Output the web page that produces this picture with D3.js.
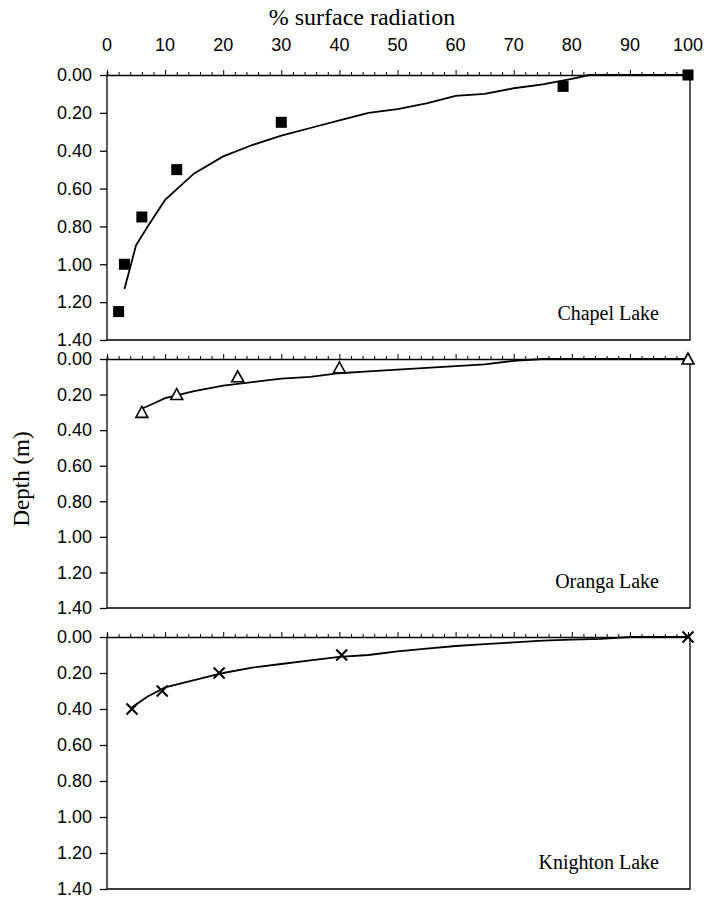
<!DOCTYPE html>
<html>
<head>
<meta charset="utf-8">
<script src="https://cdn.jsdelivr.net/npm/d3@7"></script>
<style>
body { margin: 0; background: #fff; }
svg { display: block; }
</style>
</head>
<body>
<div id="chart"></div>
<script>
// observed points (x = % surface radiation, y = depth m)
var chapelPts = [[2, 1.25], [3, 1.00], [6, 0.75], [12, 0.50], [30, 0.25], [78.5, 0.06], [100, 0.00]];
var orangaPts = [[6, 0.30], [12, 0.20], [22.5, 0.10], [40, 0.05], [100, 0.00]];
var knightonPts = [[4.3, 0.40], [9.5, 0.30], [19.3, 0.20], [40.4, 0.10], [100, 0.00]];

// fitted curves
var chapelFit = [[3, 1.13], [5, 0.90], [7, 0.80], [10, 0.66], [15, 0.52], [20, 0.43], [25, 0.37], [30, 0.32],
	[35, 0.28], [40, 0.24], [45, 0.20], [50, 0.18], [55, 0.15], [60, 0.11], [65, 0.10], [70, 0.07],
	[75, 0.05], [80, 0.02], [83, 0.00], [100, 0.00]];
var orangaFit = [[6, 0.28], [8, 0.25], [10, 0.22], [15, 0.18], [20, 0.15], [25, 0.13], [30, 0.11], [35, 0.10],
	[40, 0.08], [45, 0.07], [50, 0.06], [55, 0.05], [60, 0.04], [65, 0.03], [70, 0.01], [75, 0.00], [100, 0.00]];
var knightonFit = [[4.3, 0.39], [7, 0.33], [10, 0.28], [15, 0.24], [20, 0.20], [25, 0.17], [30, 0.15], [35, 0.13],
	[40, 0.11], [45, 0.10], [50, 0.08], [55, 0.065], [60, 0.05], [65, 0.04], [70, 0.03], [75, 0.02],
	[80, 0.015], [85, 0.01], [90, 0.00], [100, 0.00]];

var xTicks = [0, 10, 20, 30, 40, 50, 60, 70, 80, 90, 100];
var yTicks = [0, 0.2, 0.4, 0.6, 0.8, 1.0, 1.2, 1.4];
var lakeNames = ["Chapel Lake", "Oranga Lake", "Knighton Lake"];

var W = 707, H = 903;
var left = 107, right = 690;
var panels = [
	{name: lakeNames[0], top: 75, bottom: 340, pts: chapelPts, fit: chapelFit, mark: "square"},
	{name: lakeNames[1], top: 359, bottom: 608, pts: orangaPts, fit: orangaFit, mark: "triangle"},
	{name: lakeNames[2], top: 637, bottom: 889, pts: knightonPts, fit: knightonFit, mark: "cross"}
];

var svg = d3.select("#chart").append("svg").attr("width", W).attr("height", H);

var x = d3.scaleLinear().domain([0, 100]).range([left, right - 2]);

svg.append("text")
	.attr("x", 362).attr("y", 25)
	.attr("text-anchor", "middle")
	.style("font-family", "'Liberation Serif', serif").style("font-size", "24px")
	.text("% surface radiation");

svg.selectAll("text.xlab").data(xTicks).enter().append("text")
	.attr("class", "xlab")
	.attr("x", function (d) { return x(d); })
	.attr("y", 51)
	.attr("text-anchor", "middle")
	.style("font-family", "'Liberation Sans', Arial, sans-serif").style("font-size", "18px")
	.text(function (d) { return d; });

svg.append("text")
	.attr("transform", "translate(29,479) rotate(-90)")
	.attr("text-anchor", "middle")
	.style("font-family", "'Liberation Serif', serif").style("font-size", "23px")
	.text("Depth (m)");

var line = d3.line();

panels.forEach(function (p) {
	var y = d3.scaleLinear().domain([0, 1.4]).range([p.top, p.bottom]);
	var g = svg.append("g");

	// frame: left, bottom, right
	g.append("path")
		.attr("d", "M" + left + "," + p.top + "V" + p.bottom + "H" + right + "V" + p.top)
		.attr("fill", "none").attr("stroke", "#000").attr("stroke-width", 1.3);

	// top axis with minor ticks
	var top = d3.axisTop(x).tickValues(d3.range(0, 101, 2)).tickSize(3).tickFormat("");
	var ga = g.append("g").attr("transform", "translate(0," + p.top + ")").call(top);
	ga.select(".domain").attr("stroke-width", 1.6);
	ga.selectAll(".tick line").attr("stroke-width", 1)
		.attr("y2", function (d) { return d % 10 === 0 ? -5 : -3; });

	// left axis
	var la = d3.axisLeft(y).tickValues(yTicks).tickSize(7).tickPadding(8).tickFormat(d3.format(".2f"));
	var gl = g.append("g").attr("transform", "translate(" + left + ",0)").call(la);
	gl.select(".domain").remove();
	gl.selectAll(".tick line").attr("stroke-width", 1.3);
	gl.selectAll("text")
		.style("font-family", "'Liberation Sans', Arial, sans-serif").style("font-size", "18px")
		.attr("fill", "#000");

	// fitted curve
	g.append("path")
		.datum(p.fit)
		.attr("d", line.x(function (d) { return x(d[0]); }).y(function (d) { return y(d[1]); }))
		.attr("fill", "none").attr("stroke", "#000").attr("stroke-width", 1.8);

	// markers
	var mk = g.selectAll("g.mk").data(p.pts).enter().append("g")
		.attr("transform", function (d) { return "translate(" + x(d[0]) + "," + y(d[1]) + ")"; });
	if (p.mark === "square") {
		mk.append("rect").attr("x", -5.5).attr("y", -5.5).attr("width", 11).attr("height", 11).attr("fill", "#000");
	} else if (p.mark === "triangle") {
		mk.append("path").attr("d", "M0,-6L6,5H-6Z").attr("fill", "#fff").attr("stroke", "#000").attr("stroke-width", 1.6);
	} else {
		mk.append("path").attr("d", "M-5.5,-5.5L5.5,5.5M-5.5,5.5L5.5,-5.5").attr("stroke", "#000").attr("stroke-width", 2);
	}

	g.append("text")
		.attr("x", 659).attr("y", p.bottom - 20)
		.attr("text-anchor", "end")
		.style("font-family", "'Liberation Serif', serif").style("font-size", "20px")
		.text(p.name);
});
</script>
</body>
</html>
